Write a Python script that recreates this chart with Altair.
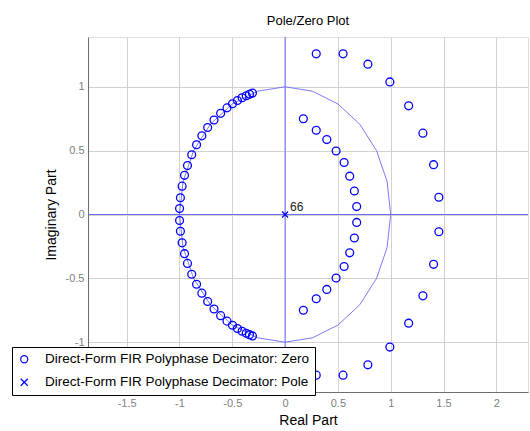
import altair as alt
import pandas as pd
import numpy as np

# Zeros (real, imaginary)
zero_re = [
    -0.309, -0.337, -0.368, -0.407, -0.451, -0.498, -0.550, -0.610, -0.673,
    -0.733, -0.788, -0.838, -0.884, -0.924, -0.952, -0.975, -0.991, -0.999,
    -0.309, -0.337, -0.368, -0.407, -0.451, -0.498, -0.550, -0.610, -0.673,
    -0.733, -0.788, -0.838, -0.884, -0.924, -0.952, -0.975, -0.991, -0.999,
    0.173, 0.295, 0.395, 0.483, 0.559, 0.612, 0.656, 0.678,
    0.173, 0.295, 0.395, 0.483, 0.559, 0.612, 0.656, 0.678,
    0.295, 0.549, 0.784, 0.992, 1.170, 1.305, 1.406, 1.456,
    0.295, 0.549, 0.784, 0.992, 1.170, 1.305, 1.406, 1.456,
]
zero_im = [
    0.951, 0.941, 0.930, 0.914, 0.893, 0.867, 0.835, 0.792, 0.740,
    0.681, 0.616, 0.546, 0.468, 0.383, 0.307, 0.222, 0.131, 0.047,
    -0.951, -0.941, -0.930, -0.914, -0.893, -0.867, -0.835, -0.792, -0.740,
    -0.681, -0.616, -0.546, -0.468, -0.383, -0.307, -0.222, -0.131, -0.047,
    0.750, 0.660, 0.587, 0.497, 0.407, 0.300, 0.184, 0.062,
    -0.750, -0.660, -0.587, -0.497, -0.407, -0.300, -0.184, -0.062,
    1.258, 1.258, 1.177, 1.038, 0.851, 0.637, 0.390, 0.135,
    -1.258, -1.258, -1.177, -1.038, -0.851, -0.637, -0.390, -0.135,
]
pole_re = [0.0]
pole_im = [0.0]
pole_label = ["66"]

zero_name = "Direct-Form FIR Polyphase Decimator: Zero"
pole_name = "Direct-Form FIR Polyphase Decimator: Pole"

x_ticks = [-1.5, -1, -0.5, 0, 0.5, 1, 1.5, 2]
y_ticks = [-1, -0.5, 0, 0.5, 1]
x_domain = [-1.866, 2.30]
y_domain = [-1.39, 1.39]

zeros_df = pd.DataFrame({"re": zero_re, "im": zero_im, "series": zero_name})
poles_df = pd.DataFrame({"re": pole_re, "im": pole_im, "series": pole_name, "lab": pole_label})

# unit circle (reference geometry)
theta = np.linspace(0, 2 * np.pi, 25)
circle_df = pd.DataFrame({"re": np.cos(theta), "im": np.sin(theta), "k": np.arange(25)})

FONT = "Liberation Sans"
BLUE = "#0000ff"
LBLUE = "#6a6aff"

xs = alt.Scale(domain=x_domain, nice=False, zero=False)
ys = alt.Scale(domain=y_domain, nice=False, zero=False)

common = dict(grid=True, ticks=False, domainColor="#6e6e6e", gridColor="#d2d2d2",
              labelFont=FONT, labelFontSize=11, labelColor="#808080",
              titleFont=FONT, titleFontSize=14, titleFontWeight="normal", titleColor="black")
x_axis = alt.Axis(values=x_ticks, labelExpr="'' + datum.value", title="Real Part",
                  labelPadding=5, titlePadding=5, **common)
y_axis = alt.Axis(values=y_ticks, labelExpr="'' + datum.value", title="Imaginary Part",
                  labelPadding=4, titlePadding=7, **common)

shape_scale = alt.Scale(domain=[zero_name, pole_name],
                        range=["circle", "M-1,-1L1,1M-1,1L1,-1"])

base_axes = alt.Chart(pd.DataFrame({"v": [0]})).mark_rule(color=LBLUE, strokeWidth=1)
vline = base_axes.encode(x=alt.X("v:Q", scale=xs, axis=x_axis))
hline = base_axes.encode(y=alt.Y("v:Q", scale=ys, axis=y_axis))

circle = alt.Chart(circle_df).mark_line(color=LBLUE, strokeWidth=1, opacity=0.9).encode(
    x=alt.X("re:Q", scale=xs), y=alt.Y("im:Q", scale=ys), order="k:Q")

legend = alt.Legend(title=None, orient="none", legendX=-76, legendY=310,
                    fillColor="white", strokeColor="black", padding=5.5,
                    labelFont=FONT, labelFontSize=13.5, labelColor="black",
                    labelOffset=14, rowPadding=8, symbolSize=50,
                    symbolStrokeColor=BLUE, symbolFillColor="transparent",
                    symbolStrokeWidth=1.2, labelLimit=400)

zeros = alt.Chart(zeros_df).mark_point(color=BLUE, filled=False, size=62, strokeWidth=1.3, opacity=1).encode(
    x=alt.X("re:Q", scale=xs), y=alt.Y("im:Q", scale=ys),
    shape=alt.Shape("series:N", scale=shape_scale, legend=legend))

poles = alt.Chart(poles_df).mark_point(color=BLUE, filled=False, size=36, strokeWidth=1.2, opacity=1).encode(
    x=alt.X("re:Q", scale=xs), y=alt.Y("im:Q", scale=ys),
    shape=alt.Shape("series:N", scale=shape_scale, legend=legend))

pole_text = alt.Chart(poles_df).mark_text(align="left", baseline="middle", dx=5, dy=-8,
                                           font=FONT, fontSize=12, color="#222222").encode(
    x=alt.X("re:Q", scale=xs), y=alt.Y("im:Q", scale=ys), text="lab:N")

chart = alt.layer(vline, hline, circle, zeros, poles, pole_text).properties(
    width=440, height=355,
    title=alt.Title("Pole/Zero Plot", font=FONT, fontSize=13, fontWeight="normal",
                    color="black", anchor="middle", offset=9),
    autosize=alt.AutoSizeParams(type="none"),
    padding={"left": 88, "top": 37, "right": 2, "bottom": 39},
).configure_view(stroke="#6e6e6e", strokeWidth=1).configure(background="white")

chart.save("out.html", embed_options={"renderer": "svg", "actions": False})
